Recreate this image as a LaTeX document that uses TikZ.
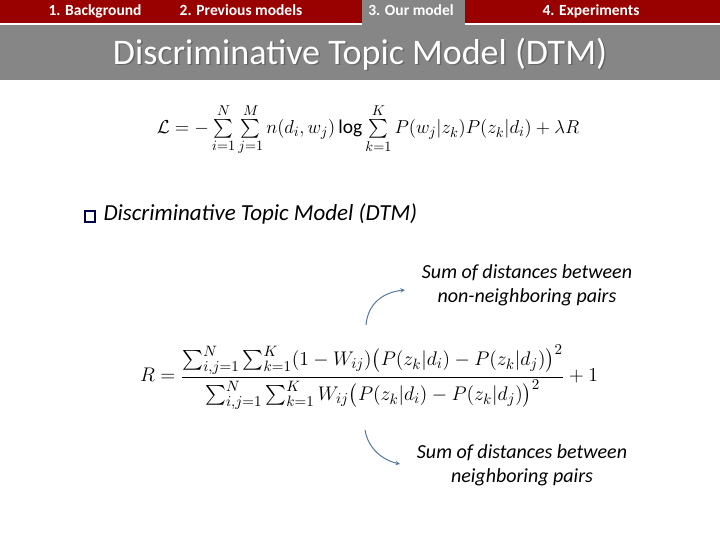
\documentclass[tikz,border=0pt]{standalone}
\usepackage{fontspec}
\setmainfont{Carlito}
\usepackage{amsmath}
\definecolor{arrowc}{RGB}{84,120,160}
\begin{document}
\begin{tikzpicture}[x=1pt,y=1pt,
  tab/.style={text=white,font=\bfseries\fontsize{15.5}{18}\selectfont,anchor=base},
  note/.style={font=\itshape\fontsize{20}{24}\selectfont,align=center},
  curv/.style={draw=arrowc,line width=1pt,-stealth}]
\useasboundingbox (0,0) rectangle (720,540);
\fill[white] (0,0) rectangle (720,540);
\fill[red!60!black] (0,540) rectangle (720,517);
\fill[gray!95] (362,540) rectangle (465,515);
\fill[gray!95] (0,515) rectangle (720,460);
\node[tab] (t1) at (95,524) {1. Background};
\node[tab] (t2) at (241,524) {2. Previous models};
\node[tab] (t3) at (411,524) {3. Our model};
\node[tab] (t4) at (591,524) {4. Experiments};
\node[text=black!60,font=\fontsize{36}{40}\selectfont] at (361.5,484.5) {Discriminative Topic Model (DTM)};
\node[text=white,font=\fontsize{36}{40}\selectfont] (title) at (360,486) {Discriminative Topic Model (DTM)};
\node[scale=1.3,font=\fontsize{15}{18}\selectfont] (f1) at (368,410) {$\mathcal{L}=-\sum\limits_{i=1}^{N}\sum\limits_{j=1}^{M} n(d_i,w_j)\log\sum\limits_{k=1}^{K}P(w_j|z_k)P(z_k|d_i)+\lambda R$};
\fill[blue!30!black] (84,317) rectangle (96,330);
\fill[white] (86,319) rectangle (94,328);
\node[font=\itshape\fontsize{23}{27}\selectfont,anchor=west] (h) at (100,326) {Discriminative Topic Model (DTM)};
\node[note] (n1) at (527,255) {Sum of distances between\\non-neighboring pairs};
\node[scale=1.37,font=\fontsize{15}{18}\selectfont] (f2) at (369,163) {$R=\dfrac{\sum_{i,j=1}^{N}\sum_{k=1}^{K}(1-W_{ij})\big(P(z_k|d_i)-P(z_k|d_j)\big)^2}{\sum_{i,j=1}^{N}\sum_{k=1}^{K}W_{ij}\big(P(z_k|d_i)-P(z_k|d_j)\big)^2}+1$};
\node[note] (n2) at (522,75) {Sum of distances between\\neighboring pairs};
\coordinate (a1) at (366,215);
\coordinate (a2) at (365,110);
\draw[curv] (a1) .. controls (368,238) and (385,248) .. (405,250);
\draw[curv] (a2) .. controls (368,92) and (382,80) .. (400,76);
\end{tikzpicture}
\end{document}
